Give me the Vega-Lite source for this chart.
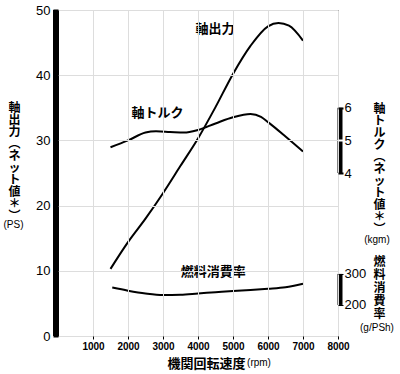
{
  "$schema": "https://vega.github.io/schema/vega-lite/v6.json",
  "autosize": "none",
  "width": 280,
  "height": 326,
  "padding": {"left": 58, "top": 10, "right": 62, "bottom": 38},
  "background": "white",
  "config": {
    "view": {"stroke": "black", "strokeWidth": 1},
    "axis": {"labelFont": "Liberation Sans", "titleFont": "Noto Sans CJK JP", "labelColor": "black", "titleColor": "black"}
  },
  "datasets": {
    "power": [
      {"rpm": 1500, "ps": 10.3}, {"rpm": 2000, "ps": 14.4}, {"rpm": 2500, "ps": 18.0},
      {"rpm": 3000, "ps": 21.9}, {"rpm": 3500, "ps": 26.1}, {"rpm": 4000, "ps": 30.3},
      {"rpm": 4500, "ps": 35.1}, {"rpm": 5000, "ps": 40.2}, {"rpm": 5500, "ps": 44.5},
      {"rpm": 6000, "ps": 47.5}, {"rpm": 6300, "ps": 48.0}, {"rpm": 6600, "ps": 47.6},
      {"rpm": 7000, "ps": 45.3}
    ],
    "torque": [
      {"rpm": 1500, "kgm": 4.79}, {"rpm": 2000, "kgm": 5.0}, {"rpm": 2500, "kgm": 5.24},
      {"rpm": 2800, "kgm": 5.28}, {"rpm": 3200, "kgm": 5.26}, {"rpm": 3600, "kgm": 5.24},
      {"rpm": 4000, "kgm": 5.32}, {"rpm": 4500, "kgm": 5.52}, {"rpm": 5000, "kgm": 5.71},
      {"rpm": 5500, "kgm": 5.81}, {"rpm": 5800, "kgm": 5.72}, {"rpm": 6000, "kgm": 5.56},
      {"rpm": 6500, "kgm": 5.12}, {"rpm": 7000, "kgm": 4.66}
    ],
    "fuel": [
      {"rpm": 1550, "g": 256}, {"rpm": 2000, "g": 246}, {"rpm": 2500, "g": 237},
      {"rpm": 3000, "g": 232}, {"rpm": 3500, "g": 233}, {"rpm": 4000, "g": 237},
      {"rpm": 4500, "g": 241}, {"rpm": 5000, "g": 245}, {"rpm": 5500, "g": 248},
      {"rpm": 6000, "g": 252}, {"rpm": 6500, "g": 257}, {"rpm": 7000, "g": 268}
    ],
    "labels": [
      {"rpm": 4486, "ps": 47.1, "label": "軸出力"},
      {"rpm": 2843, "ps": 34.2, "label": "軸トルク"},
      {"rpm": 4438, "ps": 9.8, "label": "燃料消費率"}
    ],
    "units": [
      {"rpm": -1271, "ps": 17.0, "unit": "(PS)"},
      {"rpm": 9114, "ps": 14.7, "unit": "(kgm)"},
      {"rpm": 9114, "ps": 1.23, "unit": "(g/PSh)"},
      {"rpm": 5743, "ps": -4.14, "unit": "(rpm)"}
    ]
  },
  "resolve": {"scale": {"y": "independent"}},
  "layer": [
    {
      "layer": [
        {
          "data": {"name": "power"},
          "mark": {"type": "line", "color": "black", "strokeWidth": 2, "interpolate": "monotone"},
          "encoding": {
            "x": {
              "field": "rpm", "type": "quantitative",
              "scale": {"domain": [0, 8000], "nice": false},
              "axis": {"values": [1000, 2000, 3000, 4000, 5000, 6000, 7000, 8000], "format": "d", "labelOverlap": false, "domain": false, "tickColor": "black", "tickSize": 3, "labelPadding": 2, "labelFontSize": 10, "labelFontWeight": "bold", "labelFlush": false, "zindex": 1, "title": "機関回転速度", "titleFontSize": 13, "titleFontWeight": "bold", "titleX": 148, "titleY": 27, "titleBaseline": "middle", "titleAlign": "center"}
            },
            "y": {
              "field": "ps", "type": "quantitative",
              "scale": {"domain": [0, 50], "nice": false},
              "axis": {
                "orient": "left",
                "values": [0, 5, 10, 15, 20, 25, 30, 35, 40, 45, 50],
                "labelExpr": "datum.value % 10 === 0 ? datum.label : ''",
                "domain": false,
                "tickSize": 5, "tickWidth": 2,
                "tickColor": {"condition": {"test": "datum.value % 10 !== 0", "value": "white"}, "value": "black"},
                "labelPadding": 3, "labelFontSize": 13, "labelFlush": false, "labelOverlap": false,
                "zindex": 1,
                "title": ["軸", "出", "力", "︵", "ネ", "ッ", "ト", "値", "＊", "︶"],
                "titleFontSize": 12, "titleFontWeight": "bold", "titleLineHeight": 12,
                "titleAngle": 0, "titleAlign": "center", "titleBaseline": "top",
                "titleX": -44, "titleY": 92
              }
            }
          }
        },
        {
          "data": {"values": [{}]},
          "mark": {"type": "rule", "strokeWidth": 5, "color": "black", "xOffset": -2.5},
          "encoding": {
            "x": {"datum": 0, "type": "quantitative",
              "axis": {"values": [1000, 2000, 3000, 4000, 5000, 6000, 7000, 8000], "format": "d", "labelOverlap": false, "domain": false, "tickColor": "black", "tickSize": 3, "labelPadding": 2, "labelFontSize": 10, "labelFontWeight": "bold", "labelFlush": false, "zindex": 1, "title": "機関回転速度", "titleFontSize": 13, "titleFontWeight": "bold", "titleX": 148, "titleY": 27, "titleBaseline": "middle", "titleAlign": "center"}},
            "y": {"datum": 0, "type": "quantitative"},
            "y2": {"datum": 50}
          }
        },
        {
          "data": {"name": "labels"},
          "mark": {"type": "text", "font": "Noto Sans CJK JP", "fontSize": 13, "fontWeight": "bold", "color": "black", "align": "center", "baseline": "middle"},
          "encoding": {
            "x": {"field": "rpm", "type": "quantitative",
              "axis": {"values": [1000, 2000, 3000, 4000, 5000, 6000, 7000, 8000], "format": "d", "labelOverlap": false, "domain": false, "tickColor": "black", "tickSize": 3, "labelPadding": 2, "labelFontSize": 10, "labelFontWeight": "bold", "labelFlush": false, "zindex": 1, "title": "機関回転速度", "titleFontSize": 13, "titleFontWeight": "bold", "titleX": 148, "titleY": 27, "titleBaseline": "middle", "titleAlign": "center"}},
            "y": {"field": "ps", "type": "quantitative"},
            "text": {"field": "label"}
          }
        },
        {
          "data": {"name": "units"},
          "mark": {"type": "text", "font": "Liberation Sans", "fontSize": 10, "color": "black", "align": "center", "baseline": "middle"},
          "encoding": {
            "x": {"field": "rpm", "type": "quantitative",
              "axis": {"values": [1000, 2000, 3000, 4000, 5000, 6000, 7000, 8000], "format": "d", "labelOverlap": false, "domain": false, "tickColor": "black", "tickSize": 3, "labelPadding": 2, "labelFontSize": 10, "labelFontWeight": "bold", "labelFlush": false, "zindex": 1, "title": "機関回転速度", "titleFontSize": 13, "titleFontWeight": "bold", "titleX": 148, "titleY": 27, "titleBaseline": "middle", "titleAlign": "center"}},
            "y": {"field": "ps", "type": "quantitative"},
            "text": {"field": "unit"}
          }
        }
      ]
    },
    {
      "layer": [
        {
          "data": {"name": "torque"},
          "mark": {"type": "line", "color": "black", "strokeWidth": 2, "interpolate": "monotone"},
          "encoding": {
            "x": {"field": "rpm", "type": "quantitative",
              "axis": {"values": [1000, 2000, 3000, 4000, 5000, 6000, 7000, 8000], "format": "d", "labelOverlap": false, "domain": false, "tickColor": "black", "tickSize": 3, "labelPadding": 2, "labelFontSize": 10, "labelFontWeight": "bold", "labelFlush": false, "zindex": 1, "title": "機関回転速度", "titleFontSize": 13, "titleFontWeight": "bold", "titleX": 148, "titleY": 27, "titleBaseline": "middle", "titleAlign": "center"}},
            "y": {
              "field": "kgm", "type": "quantitative",
              "scale": {"domain": [-1, 9], "nice": false, "zero": false},
              "axis": {
                "orient": "right",
                "values": [4, 5, 6],
                "domain": false,
                "tickSize": 5, "tickWidth": 2,
                "tickColor": {"condition": {"test": "datum.value === 5", "value": "white"}, "value": "black"},
                "labelPadding": 1, "labelFontSize": 13, "labelFlush": false, "labelOverlap": false,
                "zindex": 1,
                "title": ["軸", "ト", "ル", "ク", "︵", "ネ", "ッ", "ト", "値", "＊", "︶"],
                "titleFontSize": 12, "titleFontWeight": "bold", "titleLineHeight": 12,
                "titleAngle": 0, "titleAlign": "center", "titleBaseline": "top",
                "titleX": 41, "titleY": 93
              }
            }
          }
        },
        {
          "data": {"values": [{}]},
          "mark": {"type": "rule", "strokeWidth": 5, "color": "black", "xOffset": 2},
          "encoding": {
            "x": {"datum": 8000, "type": "quantitative",
              "axis": {"values": [1000, 2000, 3000, 4000, 5000, 6000, 7000, 8000], "format": "d", "labelOverlap": false, "domain": false, "tickColor": "black", "tickSize": 3, "labelPadding": 2, "labelFontSize": 10, "labelFontWeight": "bold", "labelFlush": false, "zindex": 1, "title": "機関回転速度", "titleFontSize": 13, "titleFontWeight": "bold", "titleX": 148, "titleY": 27, "titleBaseline": "middle", "titleAlign": "center"}},
            "y": {"datum": 4, "type": "quantitative"},
            "y2": {"datum": 6}
          }
        }
      ]
    },
    {
      "layer": [
        {
          "data": {"name": "fuel"},
          "mark": {"type": "line", "color": "black", "strokeWidth": 2, "interpolate": "monotone"},
          "encoding": {
            "x": {"field": "rpm", "type": "quantitative",
              "axis": {"values": [1000, 2000, 3000, 4000, 5000, 6000, 7000, 8000], "format": "d", "labelOverlap": false, "domain": false, "tickColor": "black", "tickSize": 3, "labelPadding": 2, "labelFontSize": 10, "labelFontWeight": "bold", "labelFlush": false, "zindex": 1, "title": "機関回転速度", "titleFontSize": 13, "titleFontWeight": "bold", "titleX": 148, "titleY": 27, "titleBaseline": "middle", "titleAlign": "center"}},
            "y": {
              "field": "g", "type": "quantitative",
              "scale": {"domain": [100, 1150], "nice": false, "zero": false},
              "axis": {
                "orient": "right",
                "values": [200, 300],
                "domain": false,
                "tickSize": 5, "tickWidth": 1, "tickColor": "black",
                "labelPadding": 1, "labelFontSize": 13, "labelFlush": false, "labelOverlap": false,
                "zindex": 1,
                "title": ["燃", "料", "消", "費", "率"],
                "titleFontSize": 12, "titleFontWeight": "bold", "titleLineHeight": 13,
                "titleAngle": 0, "titleAlign": "center", "titleBaseline": "top",
                "titleX": 41, "titleY": 246
              }
            }
          }
        },
        {
          "data": {"values": [{}]},
          "mark": {"type": "rule", "strokeWidth": 5, "color": "black", "xOffset": 2},
          "encoding": {
            "x": {"datum": 8000, "type": "quantitative",
              "axis": {"values": [1000, 2000, 3000, 4000, 5000, 6000, 7000, 8000], "format": "d", "labelOverlap": false, "domain": false, "tickColor": "black", "tickSize": 3, "labelPadding": 2, "labelFontSize": 10, "labelFontWeight": "bold", "labelFlush": false, "zindex": 1, "title": "機関回転速度", "titleFontSize": 13, "titleFontWeight": "bold", "titleX": 148, "titleY": 27, "titleBaseline": "middle", "titleAlign": "center"}},
            "y": {"datum": 200, "type": "quantitative"},
            "y2": {"datum": 300}
          }
        }
      ]
    }
  ]
}
